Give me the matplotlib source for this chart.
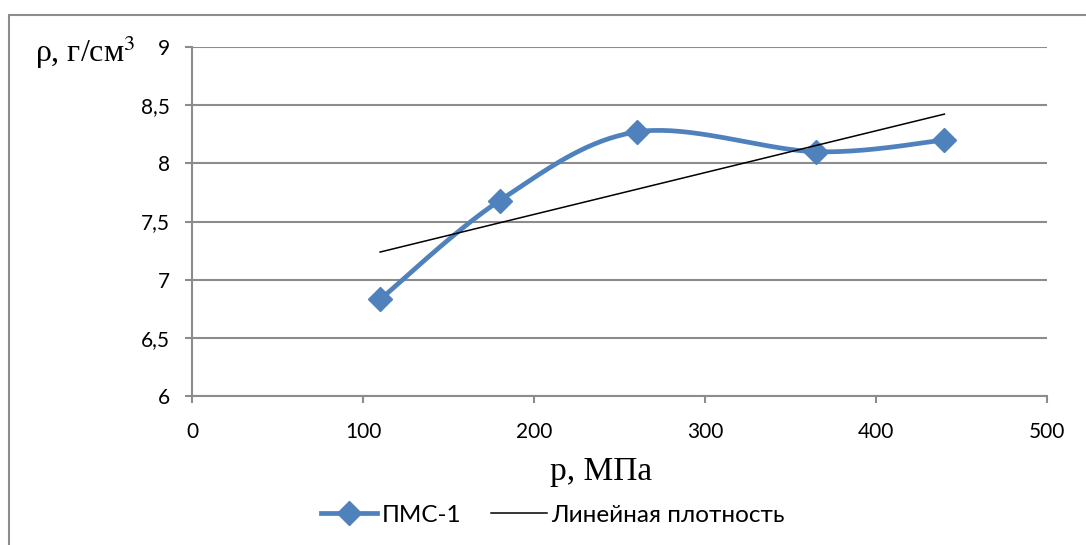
import numpy as np
import matplotlib
matplotlib.use("Agg")
from matplotlib import pyplot as plt
from matplotlib.patches import Rectangle
from matplotlib.ticker import FuncFormatter

# data
pressure = [110, 180, 260, 365, 440]      # p, MPa
density = [6.83, 7.68, 8.27, 8.10, 8.20]  # rho, g/cm3
x_ticks = [0, 100, 200, 300, 400, 500]
y_ticks = [6, 6.5, 7, 7.5, 8, 8.5, 9]

blue = "#4F81BD"
grey = "#8C8C8C"


def excel_smooth(xs, ys, n=40):
    # cardinal spline the way Excel draws "smoothed line"
    p = np.column_stack([xs, ys]).astype(float)
    p = np.vstack([p[0], p, p[-1]])
    out = []
    for i in range(1, len(p) - 2):
        p0, p1, p2, p3 = p[i - 1], p[i], p[i + 1], p[i + 2]
        c1 = p1 + (p2 - p0) / 6
        c2 = p2 - (p3 - p1) / 6
        t = np.linspace(0, 1, n)[:, None]
        seg = ((1 - t) ** 3) * p1 + 3 * ((1 - t) ** 2) * t * c1 + 3 * (1 - t) * t ** 2 * c2 + t ** 3 * p2
        out.append(seg if i == 1 else seg[1:])
    out = np.vstack(out)
    return out[:, 0], out[:, 1]


fig = plt.figure(figsize=(10.86, 5.45), dpi=100)
ax = fig.add_axes([192 / 1086, 149 / 545, 855 / 1086, 349 / 545])

# outer chart frame
fig.patches.append(Rectangle((8.5 / 1086, -0.1), 1.2, (545 - 15) / 545 + 0.1,
                             transform=fig.transFigure, fill=False,
                             edgecolor=grey, lw=1.5))

sx, sy = excel_smooth(pressure, density)
ax.plot(sx, sy, color=blue, lw=3.4, solid_capstyle="round", zorder=3)
ax.plot(pressure, density, ls="none", marker="D", ms=12, color=blue, zorder=4)
legend_blue, = ax.plot([], [], color=blue, lw=3.4, marker="D", ms=12, label="ПМС-1")

k, b = np.polyfit(pressure, density, 1)
xl = np.array([pressure[0], pressure[-1]])
trend, = ax.plot(xl, k * xl + b, color="black", lw=1.1, zorder=5,
                 label="Линейная плотность")

ax.set_xlim(0, 500)
ax.set_ylim(6, 9)
ax.set_xticks(x_ticks)
ax.set_yticks(y_ticks)
ax.yaxis.set_major_formatter(FuncFormatter(lambda v, _: f"{v:g}".replace(".", ",")))
ax.grid(axis="y", color=grey, lw=1.5)
ax.set_axisbelow(True)
for s in ["top", "right"]:
    ax.spines[s].set_visible(False)
for s in ["left", "bottom"]:
    ax.spines[s].set_color(grey)
    ax.spines[s].set_linewidth(1.5)
ax.tick_params(colors=grey, width=1.5, length=5, labelcolor="black",
               labelsize=15)
ax.tick_params(axis="y", pad=11)
ax.tick_params(axis="x", pad=14)
for lab in ax.get_xticklabels() + ax.get_yticklabels():
    lab.set_family("Lato")

fig.text(35 / 1086, 1 - 52 / 545, "ρ, г/см$^3$", family="Liberation Serif",
         fontsize=23, va="center", ha="left", math_fontfamily="stix")
fig.text(601 / 1086, 1 - 472 / 545, "p, МПа", family="Liberation Serif",
         fontsize=24, va="center", ha="center")

leg = fig.legend(handles=[legend_blue, trend], loc="center",
                 bbox_to_anchor=(553 / 1086, 1 - 515 / 545), ncol=2,
                 frameon=False, prop={"family": "Lato", "size": 17.5},
                 handlelength=2.3, columnspacing=1.2, handletextpad=0.2)

plt.savefig("out.png", dpi=100)
